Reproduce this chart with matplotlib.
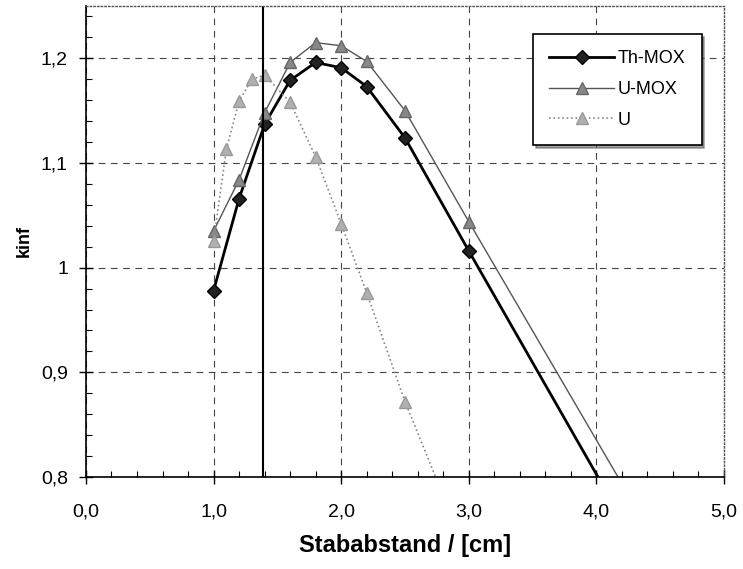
import matplotlib
matplotlib.use('Agg')
import matplotlib.pyplot as plt
from matplotlib.ticker import MultipleLocator, FuncFormatter

plt.rcParams['font.family'] = ['Liberation Sans', 'DejaVu Sans']

# Stababstand in cm
x_thmox = [1.0, 1.2, 1.4, 1.6, 1.8, 2.0, 2.2, 2.5, 3.0, 4.5]
k_thmox = [0.978, 1.066, 1.137, 1.179, 1.196, 1.191, 1.173, 1.124, 1.016, 0.696]

x_umox = [1.0, 1.2, 1.4, 1.6, 1.8, 2.0, 2.2, 2.5, 3.0, 4.5]
k_umox = [1.035, 1.084, 1.148, 1.196, 1.215, 1.212, 1.197, 1.150, 1.044, 0.731]

x_u = [1.0, 1.1, 1.2, 1.3, 1.4, 1.6, 1.8, 2.0, 2.2, 2.5, 3.0]
k_u = [1.025, 1.113, 1.159, 1.180, 1.184, 1.158, 1.106, 1.042, 0.976, 0.872, 0.722]

x_marker_line = 1.385

fig = plt.figure(figsize=(7.43, 5.69), dpi=100)
ax = fig.add_axes([0.1157, 0.1617, 0.8587, 0.8278])

ax.plot(x_thmox, k_thmox, '-', color='black', lw=2, marker='D', ms=7,
        mfc='#222222', mec='black', label='Th-MOX')
ax.plot(x_umox, k_umox, '-', color='#555555', lw=1, marker='^', ms=8,
        mfc='#888888', mec='#666666', label='U-MOX')
ax.plot(x_u, k_u, ':', color='#888888', lw=1.2, marker='^', ms=8,
        mfc='#b0b0b0', mec='#999999', label='U')

ax.axvline(x_marker_line, color='black', lw=1.5)

ax.set_xlim(0, 5)
ax.set_ylim(0.8, 1.25)
ax.xaxis.set_major_locator(MultipleLocator(1.0))
ax.xaxis.set_minor_locator(MultipleLocator(0.2))
ax.yaxis.set_major_locator(MultipleLocator(0.1))
ax.yaxis.set_minor_locator(MultipleLocator(0.02))
ax.xaxis.set_major_formatter(FuncFormatter(lambda v, p: f'{v:.1f}'.replace('.', ',')))
ax.yaxis.set_major_formatter(FuncFormatter(lambda v, p: f'{v:g}'.replace('.', ',')))

ax.tick_params(which='major', direction='inout', length=10, width=1, labelsize=14, pad=8)
ax.tick_params(which='minor', direction='in', length=4, width=0.8)
ax.tick_params(axis='x', pad=14)

ax.grid(True, which='major', linestyle=(0, (6, 5)), color='#444444', lw=0.8)

for side in ['left', 'bottom']:
    ax.spines[side].set_color('black')
    ax.spines[side].set_linewidth(1.2)
for side in ['top', 'right']:
    ax.spines[side].set_color('#555555')
    ax.spines[side].set_linestyle(':')
    ax.spines[side].set_linewidth(1)

ax.set_xlabel('Stababstand / [cm]', fontsize=17, weight='bold', labelpad=10)
ax.set_ylabel('kinf', fontsize=13, weight='bold', labelpad=6)

leg = ax.legend(loc='upper right', bbox_to_anchor=(0.965, 0.94), fontsize=13,
                fancybox=False, shadow=True, framealpha=1, edgecolor='black',
                handlelength=3.6, borderpad=0.9, labelspacing=0.75,
                handletextpad=0.2, borderaxespad=0)
leg.get_frame().set_linewidth(1.2)

fig.savefig('out.png', dpi=100)
